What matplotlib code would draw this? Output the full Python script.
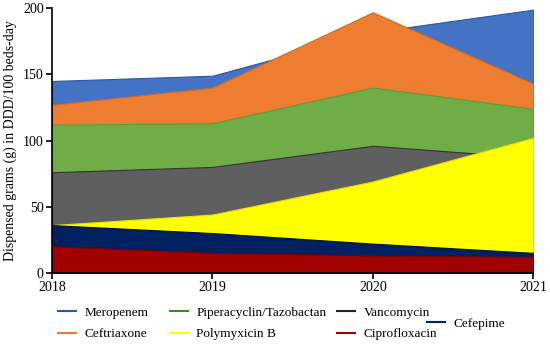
import matplotlib
matplotlib.use("Agg")
import matplotlib.pyplot as plt
from matplotlib.lines import Line2D

plt.rcParams['font.family'] = ['Liberation Serif', 'DejaVu Serif']

years = [2018, 2019, 2020, 2021]
meropenem = [145, 149, 182, 199]
ceftriaxone = [127, 140, 197, 143]
piperacillin = [112, 113, 140, 124]
vancomycin = [76, 80, 96, 87]
polymyxin = [36, 44, 69, 102]
cefepime = [36, 30, 22, 15]
ciprofloxacin = [20, 15, 13, 12]

fig = plt.figure(figsize=(5.5, 3.49), dpi=100)
ax = fig.add_axes([52/550, 1 - 272.7/349, (533.3-52)/550, (272.7-8.3)/349])

series = [
    (meropenem, '#4472C4', '#2F55A4'),
    (ceftriaxone, '#ED7D31', '#D86A20'),
    (piperacillin, '#70AD47', '#5E9A38'),
    (vancomycin, '#5F5F5F', '#333333'),
    (polymyxin, '#FFFF00', '#E6E600'),
    (cefepime, '#002060', '#001040'),
    (ciprofloxacin, '#A00000', '#800000'),
]
for vals, fc, ec in series:
    ax.fill_between(years, 0, vals, facecolor=fc, edgecolor=ec, linewidth=0.8)

ax.set_xlim(2018, 2021)
ax.set_ylim(0, 200)
ax.set_xticks(years)
ax.set_yticks([0, 50, 100, 150, 200])
ax.spines['top'].set_visible(False)
ax.spines['right'].set_visible(False)
ax.spines['left'].set_linewidth(1.2)
ax.spines['bottom'].set_linewidth(1.2)
ax.tick_params(direction='out', length=4, width=1.2, labelsize=10, pad=2)
ax.set_ylabel('Dispensed grams (g) in DDD/100 beds-day', fontsize=10)
ax.yaxis.set_label_coords(-0.073, 0.5)

cols = [
    (58, [('Meropenem', '#2F55A4'), ('Ceftriaxone', '#ED7D31')]),
    (170, [('Piperacyclin/Tazobactan', '#3A8A1E'), ('Polymyxicin B', '#FFFF00')]),
    (337, [('Vancomycin', '#222222'), ('Ciprofloxacin', '#A00000')]),
    (427, [('Cefepime', '#002060')]),
]
for x0, items in cols:
    hs = [Line2D([], [], color=c, lw=1.5, label=l) for l, c in items]
    leg = fig.legend(handles=hs, loc='center left',
                     bbox_to_anchor=(x0/550, 1 - 323.5/349), frameon=False,
                     fontsize=9.5, handlelength=1.35, handletextpad=0.65,
                     labelspacing=0.72, borderpad=0, borderaxespad=0)

fig.savefig('out.png', dpi=100)
